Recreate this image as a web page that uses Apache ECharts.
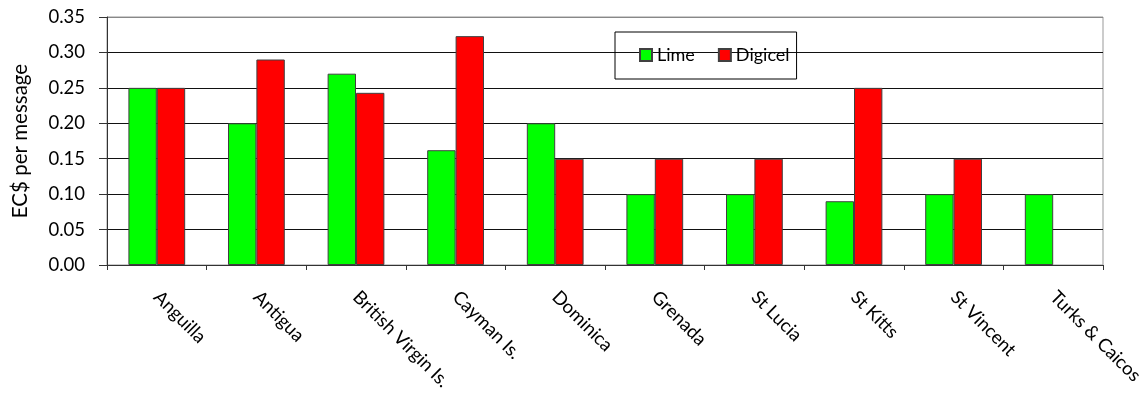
<!DOCTYPE html>
<html>
<head>
<meta charset="utf-8">
<script src="https://cdn.jsdelivr.net/npm/echarts@6/dist/echarts.min.js"></script>
<style>html,body{margin:0;padding:0;background:#fff;}#c{width:1147px;height:394px;}</style>
</head>
<body>
<div id="c"></div>
<script>
var categories = ['Anguilla','Antigua','British Virgin Is.','Cayman Is.','Dominica','Grenada','St Lucia','St Kitts','St Vincent','Turks & Caicos'];
var lime = [0.25, 0.20, 0.27, 0.162, 0.20, 0.10, 0.10, 0.09, 0.10, 0.10];
var digicel = [0.25, 0.29, 0.243, 0.323, 0.15, 0.15, 0.15, 0.25, 0.15, null];
var seriesNames = ['Lime','Digicel'];
var yTicks = { min: 0, max: 0.35, interval: 0.05 };

var FONT = 'Lato';
var chart = echarts.init(document.getElementById('c'), null, {renderer:'canvas'});
chart.setOption({
  animation: false,
  backgroundColor: '#fff',
  textStyle: { fontFamily: FONT, color: '#000' },
  grid: { left: 107, right: 44, top: 17, bottom: 129, show: true, borderColor: '#999', borderWidth: 1,
          containLabel: false, outerBoundsMode: 'none' },
  legend: {
    left: 615, top: 32,
    data: seriesNames,
    orient: 'horizontal',
    borderColor: '#000', borderWidth: 1,
    padding: [14, 7, 15, 24],
    itemWidth: 12, itemHeight: 12, itemGap: 23,
    icon: 'rect',
    textStyle: { fontFamily: FONT, fontSize: 18, color: '#000' }
  },
  xAxis: {
    type: 'category',
    data: categories,
    boundaryGap: true,
    axisLine: { lineStyle: { color: '#333', width: 1 } },
    axisTick: { show: true, length: 5, alignWithLabel: false, lineStyle: { color: '#333' } },
    axisLabel: { rotate: -45, margin: 29, fontFamily: FONT, fontSize: 18.5, color: '#000', interval: 0 }
  },
  yAxis: {
    type: 'value',
    min: yTicks.min, max: yTicks.max, interval: yTicks.interval,
    name: 'EC$ per message',
    nameLocation: 'middle',
    nameGap: 76,
    nameTextStyle: { fontFamily: FONT, fontSize: 20.5, color: '#000' },
    axisLine: { show: true, lineStyle: { color: '#333', width: 1 } },
    axisTick: { show: true, length: 8, lineStyle: { color: '#333' } },
    axisLabel: { margin: 22, fontFamily: FONT, fontSize: 18.5, color: '#000', formatter: function(v){ return v.toFixed(2); } },
    splitLine: { show: true, lineStyle: { color: ['#000','#111','#111','#111','#111','#111','#111','#888'], width: 1 } }
  },
  series: [
    { name: seriesNames[0], type: 'bar', data: lime, barGap: '0%', barCategoryGap: '43%',
      itemStyle: { color: '#00FF00', borderColor: '#404040', borderWidth: 1 } },
    { name: seriesNames[1], type: 'bar', data: digicel, barGap: '0%', barCategoryGap: '43%',
      itemStyle: { color: '#FF0000', borderColor: '#404040', borderWidth: 1 } }
  ]
});
</script>
</body>
</html>
